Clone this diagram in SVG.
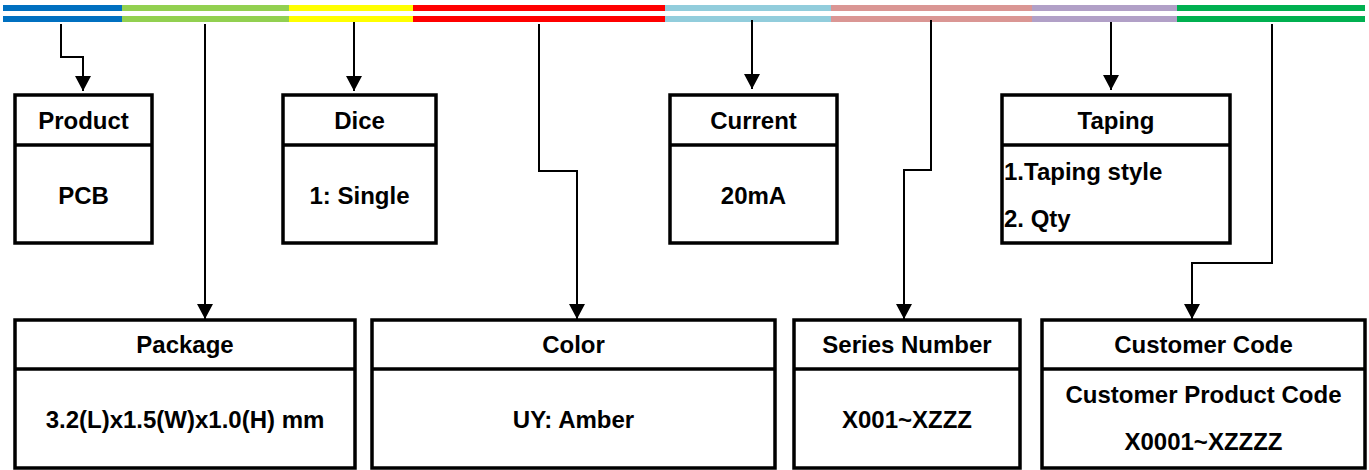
<svg xmlns="http://www.w3.org/2000/svg" width="1369" height="470" viewBox="0 0 1369 470">
<style>
.box{fill:#fff;stroke:#000;stroke-width:3.5}
.div{stroke:#000;stroke-width:3.5}
.t{font-family:"Liberation Sans",Arial,Helvetica,sans-serif;font-weight:bold;font-size:24px;fill:#000;text-anchor:middle}
.tl{text-anchor:start}
.c{fill:none;stroke:#000;stroke-width:2}
</style>
<defs>
<marker id="ah" markerUnits="userSpaceOnUse" markerWidth="16" markerHeight="16" viewBox="0 0 16 16" refX="15" refY="8" orient="auto">
<path d="M0,0 L15,8 L0,16 Z" fill="#000"/>
</marker>
</defs>
<g id="bars">
<rect x="3" y="5" width="119" height="6" fill="#0070C0"/><rect x="3" y="16" width="119" height="6" fill="#0070C0"/>
<rect x="122" y="5" width="167" height="6" fill="#92D050"/><rect x="122" y="16" width="167" height="6" fill="#92D050"/>
<rect x="289" y="5" width="124" height="6" fill="#FFFF00"/><rect x="289" y="16" width="124" height="6" fill="#FFFF00"/>
<rect x="413" y="5" width="252" height="6" fill="#FF0000"/><rect x="413" y="16" width="252" height="6" fill="#FF0000"/>
<rect x="665" y="5" width="166" height="6" fill="#92CDDC"/><rect x="665" y="16" width="166" height="6" fill="#92CDDC"/>
<rect x="831" y="5" width="201" height="6" fill="#DA9694"/><rect x="831" y="16" width="201" height="6" fill="#DA9694"/>
<rect x="1032" y="5" width="145" height="6" fill="#B1A0C7"/><rect x="1032" y="16" width="145" height="6" fill="#B1A0C7"/>
<rect x="1177" y="5" width="188" height="6" fill="#00B050"/><rect x="1177" y="16" width="188" height="6" fill="#00B050"/>
</g>
<g id="connectors">
<polyline class="c" points="61,24 61,57 83,57 83,91" marker-end="url(#ah)"/>
<polyline class="c" points="205,24 205,319" marker-end="url(#ah)"/>
<polyline class="c" points="354,22 354,91" marker-end="url(#ah)"/>
<polyline class="c" points="539,24 539,171 577,171 577,319" marker-end="url(#ah)"/>
<polyline class="c" points="752,20 752,89" marker-end="url(#ah)"/>
<polyline class="c" points="931,20 931,170 904,170 904,319" marker-end="url(#ah)"/>
<polyline class="c" points="1111,22 1111,90" marker-end="url(#ah)"/>
<polyline class="c" points="1272,24 1272,263 1192,263 1192,319" marker-end="url(#ah)"/>
</g>
<g id="product">
<rect class="box" x="15" y="95" width="137" height="148"/><line class="div" x1="15" y1="145" x2="152" y2="145"/>
<text class="t" x="83.5" y="129">Product</text><text class="t" x="83.5" y="204">PCB</text>
</g>
<g id="dice">
<rect class="box" x="283" y="95" width="153" height="148"/><line class="div" x1="283" y1="145" x2="436" y2="145"/>
<text class="t" x="359.5" y="129">Dice</text><text class="t" x="359.5" y="204">1: Single</text>
</g>
<g id="current">
<rect class="box" x="670" y="95" width="167" height="148"/><line class="div" x1="670" y1="145" x2="837" y2="145"/>
<text class="t" x="753.5" y="129">Current</text><text class="t" x="753.5" y="204">20mA</text>
</g>
<g id="taping">
<rect class="box" x="1002" y="95" width="228" height="148"/><line class="div" x1="1002" y1="145" x2="1230" y2="145"/>
<text class="t" x="1116" y="129">Taping</text>
<text class="t tl" x="1004" y="180">1.Taping style</text><text class="t tl" x="1004" y="227">2. Qty</text>
</g>
<g id="package">
<rect class="box" x="15" y="320" width="340" height="148"/><line class="div" x1="15" y1="369" x2="355" y2="369"/>
<text class="t" x="185" y="353">Package</text><text class="t" x="185" y="428">3.2(L)x1.5(W)x1.0(H) mm</text>
</g>
<g id="color">
<rect class="box" x="372" y="320" width="403" height="148"/><line class="div" x1="372" y1="369" x2="775" y2="369"/>
<text class="t" x="573.5" y="353">Color</text><text class="t" x="573.5" y="428">UY: Amber</text>
</g>
<g id="series">
<rect class="box" x="794" y="320" width="226" height="148"/><line class="div" x1="794" y1="369" x2="1020" y2="369"/>
<text class="t" x="907" y="353">Series Number</text><text class="t" x="907" y="428">X001~XZZZ</text>
</g>
<g id="customer">
<rect class="box" x="1042" y="320" width="323" height="148"/><line class="div" x1="1042" y1="369" x2="1365" y2="369"/>
<text class="t" x="1203.5" y="353">Customer Code</text><text class="t" x="1203.5" y="403">Customer Product Code</text><text class="t" x="1203.5" y="450">X0001~XZZZZ</text>
</g>
</svg>
